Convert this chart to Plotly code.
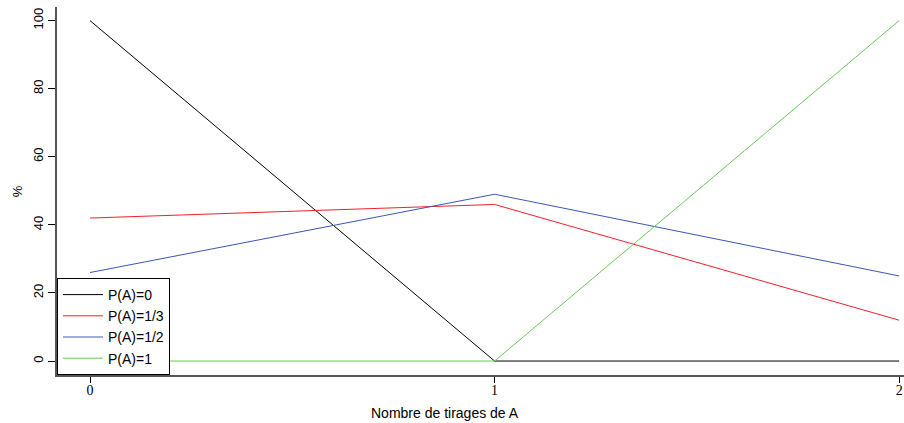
import plotly.graph_objects as go

x_vals = [0, 1, 2]
series_names = ["P(A)=0", "P(A)=1/3", "P(A)=1/2", "P(A)=1"]
series_values = [
    [100, 0, 0],
    [42, 46, 12],
    [26, 49, 25],
    [0, 0, 100],
]
series_colors = ["#000000", "#F0202E", "#3A58B0", "#66CC55"]
y_ticks = [0, 20, 40, 60, 80, 100]
x_ticks = [0, 1, 2]
x_title = "Nombre de tirages de A"
y_title = "%"

fig = go.Figure()
for name, vals, col in zip(series_names, series_values, series_colors):
    fig.add_trace(go.Scatter(x=x_vals, y=vals, mode="lines", name=name,
                             line=dict(color=col, width=1)))

fig.update_layout(
    width=904, height=423,
    margin=dict(l=57, r=0, t=7, b=48, autoexpand=False),
    paper_bgcolor="white", plot_bgcolor="white",
    showlegend=True,
    legend=dict(x=0, y=0, xanchor="left", yanchor="bottom",
                bordercolor="#000000", borderwidth=1, bgcolor="white",
                font=dict(family="Liberation Sans, Arial, sans-serif", size=14, color="black"),
                tracegroupgap=0, itemwidth=40),
)
fig.update_xaxes(range=[-0.0816, 2.012], tickvals=x_ticks, ticktext=[str(t) for t in x_ticks],
                 automargin=False, ticklabeloverflow="allow", ticklabelstandoff=-5,
                 showgrid=False, zeroline=False, showline=True, linecolor="#555555", linewidth=2,
                 ticks="outside", ticklen=6, tickcolor="#000000",
                 tickfont=dict(family="Liberation Serif, Times New Roman, serif", size=14, color="black"))
fig.update_yaxes(range=[-4.1, 104], tickvals=y_ticks, ticktext=[str(t) for t in y_ticks],
                 automargin=False, ticklabeloverflow="allow",
                 showgrid=False, zeroline=False, showline=True, linecolor="#555555", linewidth=2,
                 ticks="outside", ticklen=7, tickcolor="#000000", tickangle=-90,
                 tickfont=dict(family="Liberation Sans, Arial, sans-serif", size=13, color="black"))

fig.add_annotation(text=x_title, xref="paper", yref="paper", x=0.458, y=-0.1033,
                   xanchor="center", yanchor="middle", showarrow=False,
                   font=dict(family="Liberation Sans, Arial, sans-serif", size=14, color="black"))
fig.add_annotation(text=y_title, xref="paper", yref="paper", x=-0.047, y=0.5,
                   xanchor="center", yanchor="middle", showarrow=False, textangle=-90,
                   font=dict(family="Liberation Sans, Arial, sans-serif", size=13, color="black"))

fig.write_html("out.html", config={"displayModeBar": False},
               post_script="document.body.style.margin='0';document.body.style.overflow='hidden';")
